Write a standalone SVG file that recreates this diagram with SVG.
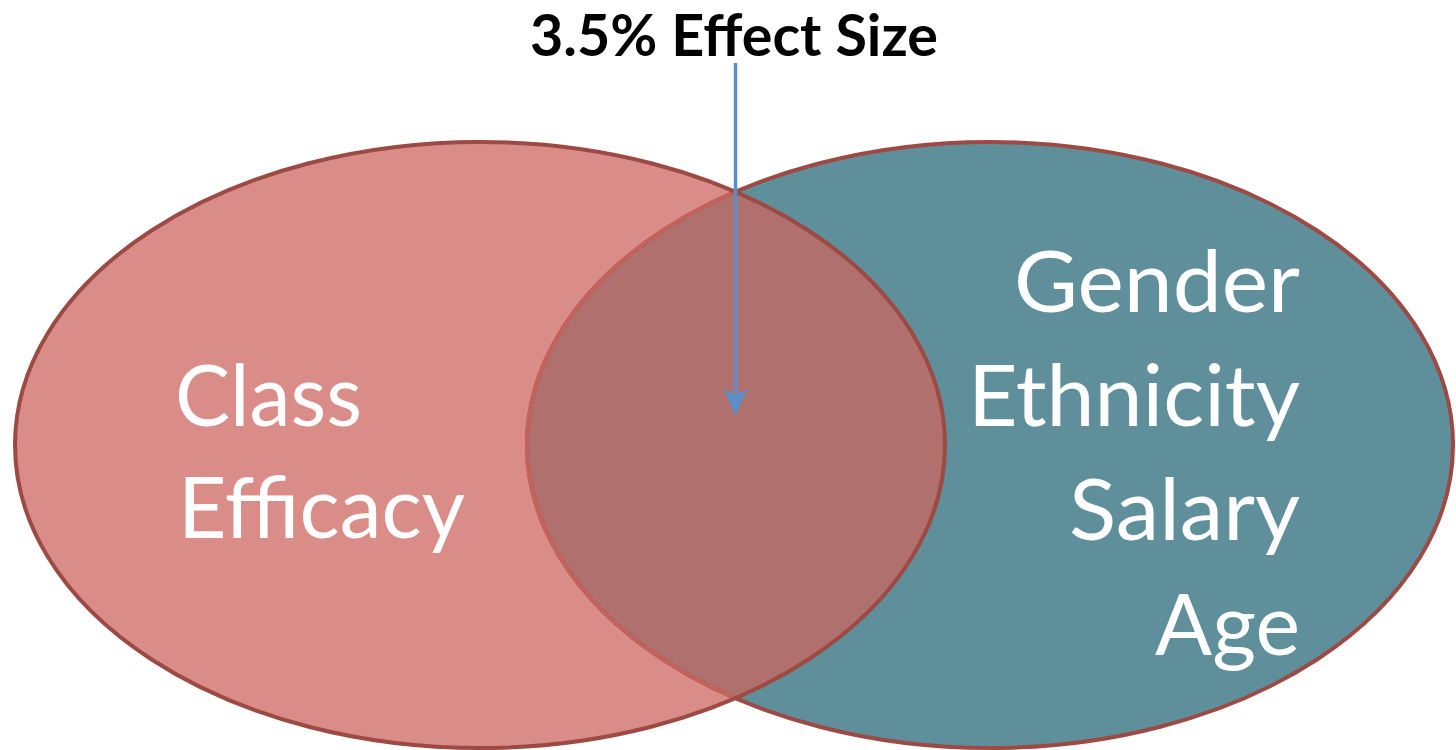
<svg xmlns="http://www.w3.org/2000/svg" width="1456" height="750" viewBox="0 0 1456 750">
  <style>
    .lbl { font-family: Lato, "Liberation Sans", sans-serif; font-size: 86px; fill: #ffffff; }
    .title { font-family: Lato, "Liberation Sans", sans-serif; font-size: 57px; font-weight: bold; fill: #000000; }
    .edge { fill: none; stroke: #9c4a43; stroke-width: 4; }
  </style>
  <defs>
    <clipPath id="clipLeft">
      <ellipse cx="480" cy="445" rx="465" ry="303"/>
    </clipPath>
    <marker id="arrow" viewBox="0 0 26 24" refX="24" refY="12" markerWidth="26" markerHeight="24" markerUnits="userSpaceOnUse" orient="auto">
      <path d="M0,0 L26,12 L0,24 L6,12 Z" fill="#5b8fc9"/>
    </marker>
  </defs>
  <rect width="1456" height="750" fill="#ffffff"/>
  <g id="set-left">
    <ellipse cx="480" cy="445" rx="465" ry="303" fill="#d98c88"/>
  </g>
  <g id="set-right">
    <ellipse cx="990" cy="445" rx="463" ry="303" fill="#5f8f9b"/>
  </g>
  <g id="overlap">
    <ellipse cx="990" cy="445" rx="463" ry="303" fill="#b0716e" clip-path="url(#clipLeft)"/>
  </g>
  <g id="outlines">
    <ellipse class="edge" cx="990" cy="445" rx="463" ry="303"/>
    <ellipse cx="990" cy="445" rx="463" ry="303" fill="none" stroke="#c4635c" stroke-width="4" clip-path="url(#clipLeft)"/>
    <ellipse class="edge" cx="480" cy="445" rx="465" ry="303"/>
  </g>
  <g id="labels">
    <text class="lbl" x="175" y="426" textLength="187" lengthAdjust="spacingAndGlyphs">Class</text>
    <text class="lbl" x="178" y="538" textLength="287" lengthAdjust="spacingAndGlyphs">Efficacy</text>
    <text class="lbl" x="1014" y="312" textLength="286" lengthAdjust="spacingAndGlyphs">Gender</text>
    <text class="lbl" x="968" y="426" textLength="332" lengthAdjust="spacingAndGlyphs">Ethnicity</text>
    <text class="lbl" x="1069" y="540" textLength="231" lengthAdjust="spacingAndGlyphs">Salary</text>
    <text class="lbl" x="1155" y="655" textLength="145" lengthAdjust="spacingAndGlyphs">Age</text>
  </g>
  <g id="title">
    <text class="title" x="530" y="56" textLength="408" lengthAdjust="spacingAndGlyphs">3.5% Effect Size</text>
  </g>
  <g id="connectors">
    <line x1="735.5" y1="63" x2="735.5" y2="413" stroke="#5b8fc9" stroke-width="3.5" marker-end="url(#arrow)"/>
  </g>
</svg>
